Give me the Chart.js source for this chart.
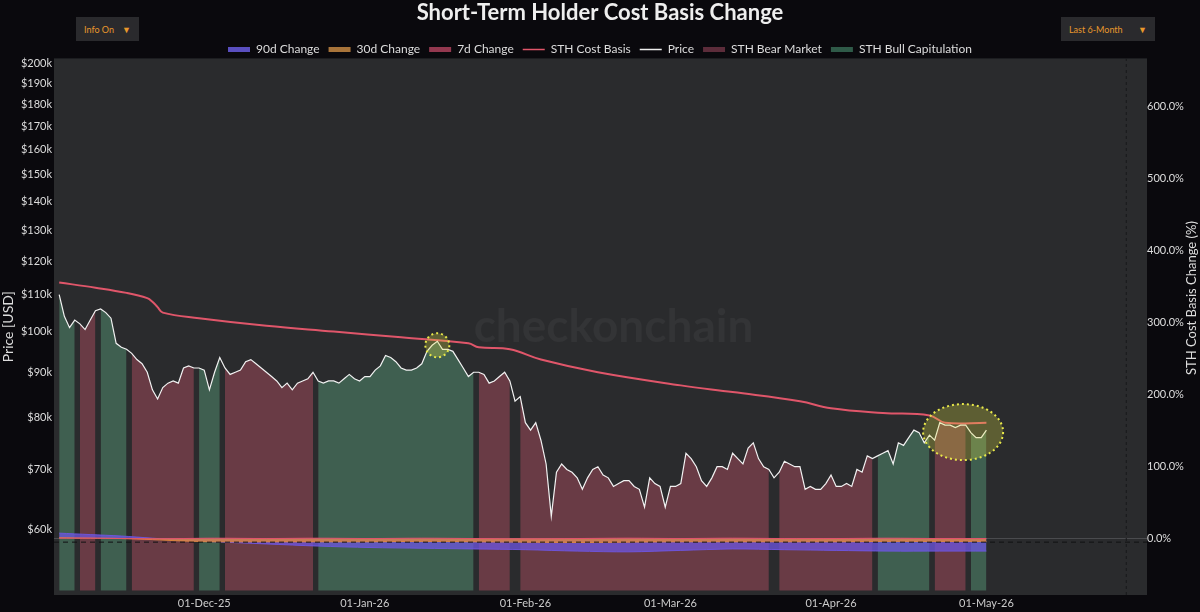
<!DOCTYPE html>
<html>
<head>
<meta charset="utf-8">
<title>Short-Term Holder Cost Basis Change</title>
<script src="https://cdn.jsdelivr.net/npm/chart.js@4.4.1/dist/chart.umd.min.js"></script>
<style>
  html, body { margin: 0; padding: 0; background: #0a090d; }
  #wrap { position: relative; width: 1200px; height: 612px; }
  .dd { position: absolute; top: 17px; height: 24px; background: #2a2a2d; color: #e8982c;
        font: 9px Lato, sans-serif; display: flex; align-items: center; justify-content: space-between;
        padding: 0 8px; box-sizing: border-box; }
</style>
</head>
<body>
<div id="wrap">
  <canvas id="sthChart" width="1200" height="612"></canvas>
  <div class="dd" style="left:76px;width:63px;"><span>Info On</span><span>&#9660;</span></div>
  <div class="dd" style="left:1061px;width:94px;"><span>Last 6-Month</span><span>&#9660;</span></div>
</div>
<script>
// day 0 = 03-Nov-25, one value per day up to 01-May-26
const priceK = [
  110, 104, 101, 103, 102, 100.5, 103, 105.5, 106, 105,
  103.5, 97, 96, 95.5, 94.5, 93, 92, 90, 86, 84,
  86.5, 87.5, 88, 87.5, 91, 91.5, 91, 91, 90.5, 86,
  90, 93.5, 91, 89.5, 90, 90.5, 92.5, 93, 92, 91,
  90, 89, 88, 86.5, 87.5, 86, 87.5, 88, 88.5, 90,
  88, 87.5, 88, 88, 87.5, 88.5, 89.5, 88.5, 88, 89,
  89, 90.5, 91.5, 94, 93.5, 92.5, 91, 90.5, 90.5, 91,
  92, 95, 96.5, 97.5, 95.5, 95.5, 95, 93, 91, 89,
  90, 90, 89.5, 87.5, 88, 89, 90, 88, 83.5, 84.5,
  79, 77.5, 79, 75.5, 71, 62, 69.5, 71, 70, 69.5,
  68.5, 66.5, 68.5, 70, 70.5, 69, 68.5, 67, 67.5, 68,
  68, 67, 66.5, 63.5, 68.5, 67.5, 67, 63.5, 67, 67,
  67.5, 73, 72, 70.5, 68, 67, 68.5, 70.5, 70.5, 70,
  73, 72, 71, 74, 75, 72, 70.5, 70, 68.5, 69.5,
  71.5, 71, 70.5, 70.5, 66.5, 67, 66.5, 66.5, 67.5, 69,
  67, 67, 67.5, 67, 70, 69.5, 72.5, 72, 72.5, 73,
  73.5, 71, 75, 74.5, 76, 77.5, 77, 75, 76.5, 75.5,
  79, 78.5, 78.5, 78, 78.5, 78.5, 77, 76, 76, 77.5
];

// regime runs (days), in order from the first day
const regimeRuns = [
  ['bull', 4], ['bear', 4], ['bull', 6], ['bear', 13], ['bull', 5],
  ['bear', 18], ['bull', 31], ['bear', 7], ['bull', 1], ['bear', 49],
  ['bull', 1], ['bear', 19], ['bull', 11], ['bear', 7], ['bull', 4]
];

const costBasisDays = [0, 7, 13, 17, 18, 19, 20, 27, 40, 53, 66, 79, 81, 87, 93, 104, 120, 130, 143, 149, 159, 168, 171, 179];
const costBasisK    = [113.5, 112, 110.5, 109, 108, 106.5, 105, 103.5, 101.5, 100, 98.5, 97, 96, 95.5, 93, 90, 87, 85.5, 83.5, 82, 81, 80.5, 79, 79];

const changeDays = [0, 6, 12, 18, 24, 30, 40, 50, 60, 70, 80, 90, 100, 110, 120, 130, 140, 150, 160, 170, 179];
const change90 = [7, 5, 3, 0, -3, -5, -8, -11, -13, -14, -15, -16, -18, -19, -17, -15, -16, -17, -18, -18, -18];
const change30 = [0.5, 0, -0.5, -2, -4, -5, -5, -5, -5, -4.5, -5, -5.5, -6, -5.5, -5, -5, -5, -5, -4.5, -4.5, -4.5];
const change7  = [0, 0, -0.5, -1, -0.5, 0, -0.5, 0, -0.5, 0, -0.5, -1, -0.5, 0, -0.5, 0, -0.5, -0.5, 0, -0.5, -0.5];

const monthTickDays   = [28, 59, 90, 118, 149, 179];
const monthTickLabels = ['01-Dec-25', '01-Jan-26', '01-Feb-26', '01-Mar-26', '01-Apr-26', '01-May-26'];
const priceTicks = [60000, 70000, 80000, 90000, 100000, 110000, 120000, 130000, 140000, 150000, 160000, 170000, 180000, 190000, 200000];
const pctTicks = [0, 100, 200, 300, 400, 500, 600];

// circled spots: day, price
const highlights = [
  { day: 73, price: 96500, rx: 12, ry: 12 },
  { day: 174.5, price: 77100, rx: 40, ry: 28 }
];

// ---- build series ----
const regime = [];
regimeRuns.forEach(([kind, n]) => { for (let k = 0; k < n; k++) regime.push(kind); });

const pricePts = priceK.map((p, i) => ({ x: i, y: p * 1000 }));
const bearPts = priceK.map((p, i) => ({ x: i, y: regime[i] === 'bear' ? p * 1000 : null }));
const bullPts = priceK.map((p, i) => ({ x: i, y: regime[i] === 'bull' ? p * 1000 : null }));
const costPts = costBasisDays.map((d, i) => ({ x: d, y: costBasisK[i] * 1000 }));
const toPts = arr => changeDays.map((d, i) => ({ x: d, y: arr[i] }));

const legendLook = {
  '90d Change':            { style: 'rect', color: '#5a4fc0' },
  '30d Change':            { style: 'rect', color: '#a8743a' },
  '7d Change':             { style: 'rect', color: '#93384f' },
  'STH Cost Basis':        { style: 'line', color: '#e0566a' },
  'Price':                 { style: 'line', color: '#eeeeee' },
  'STH Bear Market':       { style: 'rect', color: '#5c2c3a' },
  'STH Bull Capitulation': { style: 'rect', color: '#2f5a48' }
};

const backdrop = {
  id: 'backdrop',
  beforeDraw(chart) {
    const { ctx, chartArea: a } = chart;
    ctx.save();
    ctx.fillStyle = '#0a090d';
    ctx.fillRect(0, 0, chart.width, chart.height);
    ctx.fillStyle = '#2a2b2d';
    ctx.fillRect(a.left, a.top, a.right - a.left, a.bottom - a.top);
    ctx.restore();
  },
  beforeDatasetsDraw(chart) {
    const { ctx, chartArea: a } = chart;
    ctx.save();
    ctx.font = 'bold 46px Lato';
    ctx.fillStyle = 'rgba(255,255,255,0.045)';
    ctx.textAlign = 'center';
    ctx.textBaseline = 'middle';
    ctx.fillText('checkonchain', (a.left + a.right) / 2 + 13, (a.top + a.bottom) / 2);
    ctx.restore();
  },
  afterDraw(chart) {
    // right axis title sits a little above the middle in the original
    const { ctx } = chart;
    ctx.save();
    ctx.translate(1192, 298);
    ctx.rotate(-Math.PI / 2);
    ctx.font = '13px Lato';
    ctx.fillStyle = '#dddddd';
    ctx.textAlign = 'center';
    ctx.textBaseline = 'middle';
    ctx.fillText('STH Cost Basis Change (%)', 0, 0);
    ctx.restore();
  }
};

const circles = {
  id: 'circles',
  afterDatasetsDraw(chart) {
    const { ctx, scales } = chart;
    ctx.save();
    highlights.forEach(h => {
      const cx = scales.x.getPixelForValue(h.day);
      const cy = scales.y.getPixelForValue(h.price);
      ctx.beginPath();
      ctx.ellipse(cx, cy, h.rx, h.ry, 0, 0, Math.PI * 2);
      ctx.fillStyle = 'rgba(225,225,70,0.28)';
      ctx.fill();
      ctx.setLineDash([2, 3]);
      ctx.lineWidth = 2;
      ctx.strokeStyle = '#e8e84a';
      ctx.stroke();
    });
    ctx.restore();
  }
};

const ctxSth = document.getElementById('sthChart').getContext('2d');
Chart.defaults.font.family = 'Lato, "Open Sans", sans-serif';
Chart.defaults.color = '#dddddd';

const sthChart = new Chart(ctxSth, {
  type: 'line',
  data: {
    datasets: [
      { label: '90d Change', data: toPts(change90), yAxisID: 'yR', order: 5,
        borderColor: 'rgba(110,85,225,0.9)', backgroundColor: 'rgba(110,85,225,0.75)',
        borderWidth: 1, fill: 'origin', tension: 0.3 },
      { label: '30d Change', data: toPts(change30), yAxisID: 'yR', order: 4,
        borderColor: 'rgba(225,135,60,0.9)', backgroundColor: 'rgba(225,135,60,0.8)',
        borderWidth: 1, fill: 'origin', tension: 0.3 },
      { label: '7d Change', data: toPts(change7), yAxisID: 'yR', order: 3,
        borderColor: 'rgba(230,80,110,0.9)', backgroundColor: 'rgba(230,80,110,0.3)',
        borderWidth: 1, fill: 'origin', tension: 0.3 },
      { label: 'STH Cost Basis', data: costPts, yAxisID: 'y', order: 2,
        borderColor: '#e0566a', borderWidth: 2, fill: false, tension: 0.4 },
      { label: 'Price', data: pricePts, yAxisID: 'y', order: 1,
        borderColor: '#f2f2f2', borderWidth: 1.2, fill: false, tension: 0 },
      { label: 'STH Bear Market', data: bearPts, yAxisID: 'y', order: 6,
        borderWidth: 0, borderColor: 'rgba(0,0,0,0)', backgroundColor: '#693b45',
        fill: { value: 51200 }, spanGaps: false },
      { label: 'STH Bull Capitulation', data: bullPts, yAxisID: 'y', order: 7,
        borderWidth: 0, borderColor: 'rgba(0,0,0,0)', backgroundColor: '#3f5f50',
        fill: { value: 51200 }, spanGaps: false },
      { label: 'zero ref', data: [{ x: -1, y: -5.5 }, { x: 210, y: -5.5 }], yAxisID: 'yR', order: 0,
        borderColor: '#111113', borderWidth: 1, borderDash: [5, 4], fill: false },
      { label: 'edge ref', data: [{ x: 206, y: -79 }, { x: 206, y: 667 }], yAxisID: 'yR', order: 0,
        borderColor: '#18181a', borderWidth: 1, borderDash: [3, 3], fill: false }
    ]
  },
  options: {
    responsive: false,
    animation: false,
    events: [],
    elements: { point: { radius: 0 } },
    layout: { padding: 0 },
    plugins: {
      title: {
        display: true,
        text: 'Short-Term Holder Cost Basis Change',
        color: '#eeeeee',
        font: { size: 22, weight: 'bold' },
        padding: { top: 0, bottom: 8 }
      },
      legend: {
        position: 'top',
        maxHeight: 24,
        labels: {
          usePointStyle: true,
          pointStyleWidth: 22,
          boxHeight: 5,
          padding: 9,
          color: '#dddddd',
          font: { size: 12 },
          generateLabels: chart => chart.data.datasets
            .map((ds, i) => ({ ds, i }))
            .filter(o => legendLook[o.ds.label])
            .map(({ ds, i }) => {
              const look = legendLook[ds.label];
              return {
                text: ds.label,
                datasetIndex: i,
                pointStyle: look.style,
                fillStyle: look.color,
                strokeStyle: look.color,
                lineWidth: look.style === 'line' ? 1.5 : 0,
                fontColor: '#dddddd',
                hidden: false
              };
            })
        }
      },
      tooltip: { enabled: false }
    },
    scales: {
      x: {
        type: 'linear', min: -1, max: 210,
        afterBuildTicks: s => { s.ticks = monthTickDays.map(v => ({ value: v })); },
        ticks: { color: '#cccccc', font: { size: 11 }, padding: 2, maxRotation: 0, autoSkip: false,
                 callback: (v, i) => monthTickLabels[i] },
        grid: { display: false, drawTicks: false },
        border: { display: false },
        afterFit: s => { s.height = 17; }
      },
      y: {
        type: 'logarithmic', position: 'left', min: 50600, max: 202600,
        afterBuildTicks: s => { s.ticks = priceTicks.map(v => ({ value: v })); },
        ticks: { color: '#dddddd', font: { size: 11 }, padding: 2, autoSkip: false,
                 callback: v => '$' + (v / 1000) + 'k' },
        grid: { display: false, drawTicks: false },
        border: { display: false },
        title: { display: true, text: 'Price [USD]', color: '#dddddd', font: { size: 14 }, padding: 0 },
        afterFit: s => { s.width = 54; }
      },
      yR: {
        type: 'linear', position: 'right', min: -79, max: 667,
        afterBuildTicks: s => { s.ticks = pctTicks.map(v => ({ value: v })); },
        ticks: { color: '#dddddd', font: { size: 11 }, padding: 0, autoSkip: false,
                 callback: v => Number(v).toFixed(1) + '%' },
        grid: { drawTicks: false, color: c => (c.tick && c.tick.value === 0) ? '#4a4b4e' : 'rgba(0,0,0,0)' },
        border: { display: false },
        afterFit: s => { s.width = 53; }
      }
    }
  },
  plugins: [backdrop, circles]
});
</script>
</body>
</html>
